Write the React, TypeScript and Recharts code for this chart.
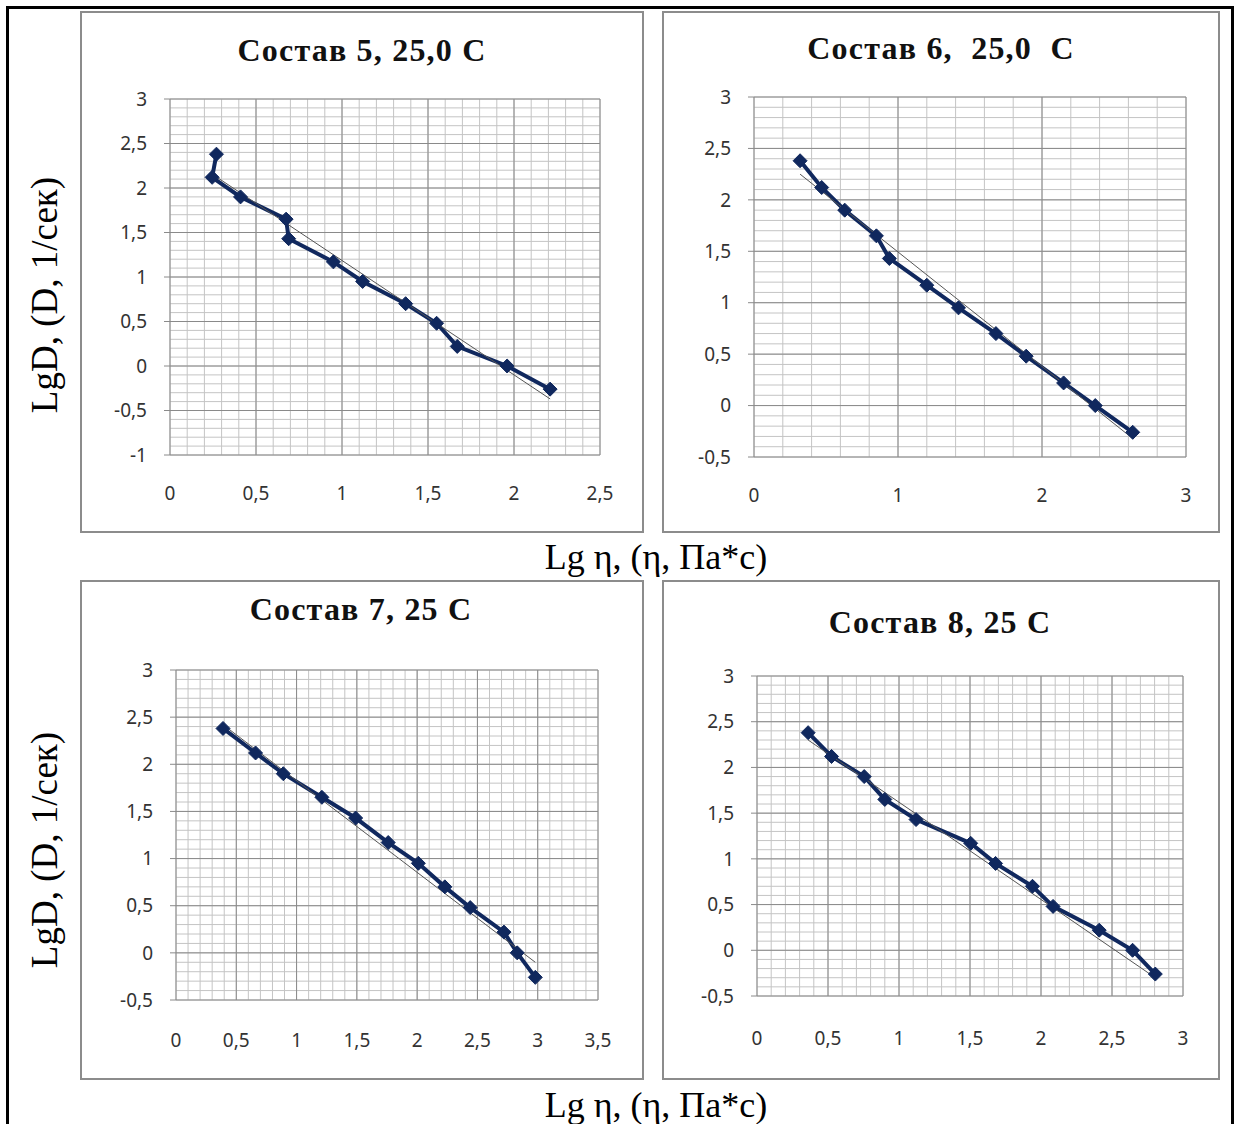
import React from 'react';
import { LineChart, Line, XAxis, YAxis, CartesianGrid } from 'recharts';

// lg of shear rate, same for all four compositions
const lgD = [2.38, 2.12, 1.9, 1.65, 1.43, 1.17, 0.95, 0.7, 0.48, 0.22, 0, -0.26];

// lg of viscosity per composition
const lgEta5 = [0.27, 0.245, 0.41, 0.675, 0.69, 0.95, 1.12, 1.37, 1.55, 1.67, 1.96, 2.21];
const lgEta6 = [0.32, 0.47, 0.63, 0.85, 0.94, 1.2, 1.42, 1.68, 1.89, 2.15, 2.37, 2.63];
const lgEta7 = [0.39, 0.66, 0.89, 1.21, 1.49, 1.76, 2.01, 2.23, 2.44, 2.72, 2.83, 2.98];
const lgEta8 = [0.36, 0.525, 0.755, 0.9, 1.12, 1.505, 1.68, 1.94, 2.085, 2.41, 2.645, 2.805];

// linear trend lines (end points)
const trend5X = [0.25, 2.21];
const trend5Y = [2.15, -0.37];
const trend6X = [0.32, 2.63];
const trend6Y = [2.25, -0.32];
const trend7X = [0.39, 2.98];
const trend7Y = [2.42, -0.1];
const trend8X = [0.36, 2.805];
const trend8Y = [2.3, -0.3];

const xTicks5 = [0, 0.5, 1, 1.5, 2, 2.5];
const yTicks5 = [-1, -0.5, 0, 0.5, 1, 1.5, 2, 2.5, 3];
const xTicks6 = [0, 1, 2, 3];
const yTicks6 = [-0.5, 0, 0.5, 1, 1.5, 2, 2.5, 3];
const xTicks7 = [0, 0.5, 1, 1.5, 2, 2.5, 3, 3.5];
const yTicks7 = [-0.5, 0, 0.5, 1, 1.5, 2, 2.5, 3];
const xTicks8 = [0, 0.5, 1, 1.5, 2, 2.5, 3];
const yTicks8 = [-0.5, 0, 0.5, 1, 1.5, 2, 2.5, 3];

const titles = ['Состав 5, 25,0 С', 'Состав 6,  25,0  С', 'Состав 7, 25 С', 'Состав 8, 25 С'];
const yLabel = 'LgD, (D, 1/сек)';
const xLabel = 'Lg η, (η, Па*с)';

const NAVY = '#10285e';
const GRID_MAJOR = '#8a8a8a';
const GRID_MINOR = '#c4c4c4';
const TICK_FONT = "'Liberation Sans Narrow', 'Noto Sans', sans-serif";
const SERIF = "'Liberation Serif', 'DejaVu Serif', serif";

const steps = (a: number, b: number, s: number) => {
  const out: number[] = [];
  for (let v = a; v <= b + 1e-9; v += s) out.push(Math.round(v * 1000) / 1000);
  return out;
};
const fmt = (v: number) => String(v).replace('.', ',');
const pts = (xs: number[], ys: number[]) => xs.map((x, i) => ({ x, y: ys[i] }));

const panels = [
  {
    box: [80, 11, 644, 533], plot: [170, 99, 600, 455], title: titles[0], titleAt: [362, 50],
    xDom: [0, 2.5], yDom: [-1, 3], xTicks: xTicks5, yTicks: yTicks5, xMinor: 0.1, yMinor: 0.1,
    data: pts(lgEta5, lgD), trend: pts(trend5X, trend5Y), xMargin: 32,
  },
  {
    box: [662, 11, 1220, 533], plot: [754, 97, 1186, 457], title: titles[1], titleAt: [941, 48],
    xDom: [0, 3], yDom: [-0.5, 3], xTicks: xTicks6, yTicks: yTicks6, xMinor: 0.2, yMinor: 0.1,
    data: pts(lgEta6, lgD), trend: pts(trend6X, trend6Y), xMargin: 32,
  },
  {
    box: [80, 580, 644, 1080], plot: [176, 670, 598, 1000], title: titles[2], titleAt: [361, 609],
    xDom: [0, 3.5], yDom: [-0.5, 3], xTicks: xTicks7, yTicks: yTicks7, xMinor: 0.1, yMinor: 0.1,
    data: pts(lgEta7, lgD), trend: pts(trend7X, trend7Y), xMargin: 34,
  },
  {
    box: [662, 580, 1220, 1080], plot: [757, 676, 1183, 996], title: titles[3], titleAt: [940, 622],
    xDom: [0, 3], yDom: [-0.5, 3], xTicks: xTicks8, yTicks: yTicks8, xMinor: 0.1, yMinor: 0.1,
    data: pts(lgEta8, lgD), trend: pts(trend8X, trend8Y), xMargin: 36,
  },
];

const Diamond = (props: any) => {
  const { cx, cy, index } = props;
  if (cx == null || cy == null) return <g key={index} />;
  const r = 7;
  return (
    <path key={index} d={`M${cx},${cy - r}L${cx + r},${cy}L${cx},${cy + r}L${cx - r},${cy}Z`} fill={NAVY} stroke={NAVY} strokeWidth={1} />
  );
};

function Panel({ p }: { p: any }) {
  const [bx0, by0, bx1, by1] = p.box;
  const [px0, py0, px1, py1] = p.plot;
  const w = bx1 - bx0;
  const h = by1 - by0;
  const yW = 60;
  const xH = 60;
  const margin = { top: py0 - by0, left: px0 - bx0 - yW, right: bx1 - px1, bottom: by1 - py1 - xH };
  const xMinor = steps(p.xDom[0], p.xDom[1], p.xMinor);
  const yMinor = steps(p.yDom[0], p.yDom[1], p.yMinor);
  return (
    <>
      <div style={{ position: 'absolute', left: bx0, top: by0, width: w, height: h, boxSizing: 'border-box', border: '2px solid #8c8c8c' }} />
      <div style={{ position: 'absolute', left: bx0, top: by0, width: w, height: h }}>
        <LineChart width={w} height={h} margin={margin}>
          <CartesianGrid stroke={GRID_MINOR} strokeWidth={1} horizontalValues={yMinor} verticalValues={xMinor} />
          <CartesianGrid stroke={GRID_MAJOR} strokeWidth={1} horizontalValues={p.yTicks} verticalValues={p.xTicks} fill="none" />
          <XAxis type="number" dataKey="x" domain={p.xDom} ticks={p.xTicks} interval={0} allowDataOverflow
            tickFormatter={fmt} axisLine={false} tickLine={false} tickSize={0} tickMargin={p.xMargin} height={xH}
            tick={{ fill: '#333', fontSize: 19, fontFamily: TICK_FONT }} />
          <YAxis type="number" dataKey="y" domain={p.yDom} ticks={p.yTicks} interval={0} allowDataOverflow
            tickFormatter={fmt} axisLine={false} tickLine={{ stroke: GRID_MAJOR }} tickSize={6} tickMargin={17} width={yW}
            tick={{ fill: '#333', fontSize: 19, fontFamily: TICK_FONT }} />
          <Line data={p.data} dataKey="y" type="linear" stroke={NAVY} strokeWidth={4} dot={Diamond} isAnimationActive={false} />
          <Line data={p.trend} dataKey="y" type="linear" stroke="#555" strokeWidth={1} dot={false} isAnimationActive={false} />
        </LineChart>
      </div>
      <div style={{ position: 'absolute', left: p.titleAt[0] - 250, top: p.titleAt[1] - 21, width: 500, height: 42, lineHeight: '42px', textAlign: 'center', fontFamily: SERIF, fontWeight: 'bold', fontSize: 32, letterSpacing: 1.2, whiteSpace: 'pre', color: '#111' }}>
        {p.title}
      </div>
    </>
  );
}

const AxisTitleY = ({ cx, cy }: { cx: number; cy: number }) => (
  <div style={{ position: 'absolute', left: cx - 200, top: cy - 22, width: 400, height: 44, lineHeight: '44px', textAlign: 'center', transform: 'rotate(-90deg)', fontFamily: SERIF, fontSize: 37, whiteSpace: 'pre', color: '#000' }}>
    {yLabel}
  </div>
);

const AxisTitleX = ({ cx, cy }: { cx: number; cy: number }) => (
  <div style={{ position: 'absolute', left: cx - 200, top: cy - 22, width: 400, height: 44, lineHeight: '44px', textAlign: 'center', fontFamily: SERIF, fontSize: 36, whiteSpace: 'pre', color: '#000' }}>
    {xLabel}
  </div>
);

export default function App() {
  return (
    <div style={{ position: 'absolute', left: 0, top: 0, width: 1238, height: 1124, background: '#fff', overflow: 'hidden' }}>
      <div style={{ position: 'absolute', left: 6, top: 6, width: 1228, height: 1130, boxSizing: 'border-box', border: '3px solid #000' }} />
      {panels.map((p, i) => <Panel key={i} p={p} />)}
      <AxisTitleY cx={45} cy={295} />
      <AxisTitleY cx={45} cy={850} />
      <AxisTitleX cx={656} cy={557} />
      <AxisTitleX cx={656} cy={1105} />
    </div>
  );
}
